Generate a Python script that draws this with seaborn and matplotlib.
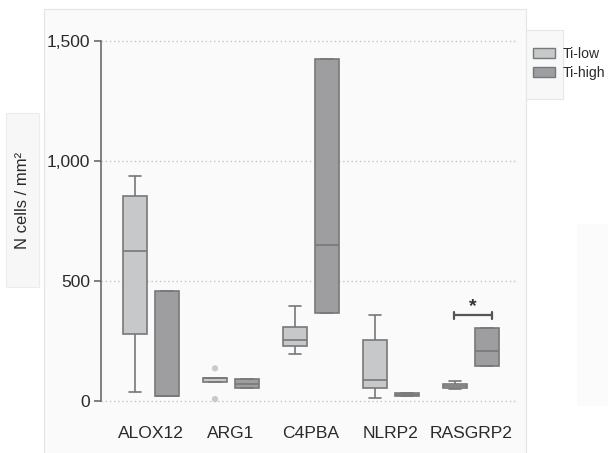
import numpy as np
import pandas as pd
import matplotlib
matplotlib.use("Agg")
import matplotlib.pyplot as plt
from matplotlib.patches import Rectangle, Patch
from matplotlib.ticker import StrMethodFormatter
import seaborn as sns

# Genes and groups
genes = ["ALOX12", "ARG1", "C4PBA", "NLRP2", "RASGRP2"]
groups = ["Ti-low", "Ti-high"]

# Five-number summaries (N cells / mm²): whisker low, Q1, median, Q3, whisker high
low_min = [37, 78, 197, 12, 49]
low_q1 = [280, 78, 231, 54, 54]
low_med = [625, 97, 253, 86, 63]
low_q3 = [852, 97, 308, 256, 70]
low_max = [935, 97, 396, 356, 83]

high_min = [20, 55, 366, 22, 145]
high_q1 = [20, 55, 366, 22, 145]
high_med = [20, 70, 648, 26, 207]
high_q3 = [458, 92, 1425, 32, 302]
high_max = [458, 92, 1425, 32, 302]

# Outlying points
outlier_gene = ["ARG1", "ARG1"]
outlier_group = ["Ti-low", "Ti-low"]
outlier_value = [136, 8]

# Significance marker
sig_gene = "RASGRP2"
sig_level = 357
sig_label = "*"

rows = []
summaries = {
    "Ti-low": (low_min, low_q1, low_med, low_q3, low_max),
    "Ti-high": (high_min, high_q1, high_med, high_q3, high_max),
}
for grp, stats in summaries.items():
    for i, g in enumerate(genes):
        for s in stats:
            rows.append({"gene": g, "group": grp, "value": s[i]})
df = pd.DataFrame(rows)
out_df = pd.DataFrame({"gene": outlier_gene, "group": outlier_group, "value": outlier_value})

palette = {"Ti-low": "#c7c8ca", "Ti-high": "#9d9ea1"}
edge = "#77787a"

sns.set_style("white")
plt.rcParams["font.family"] = ["Liberation Sans", "DejaVu Sans"]

W, H = 608, 453
fig = plt.figure(figsize=(W / 100, H / 100), dpi=100)
fig.patch.set_facecolor("white")

def frect(x0, y0, x1, y1, fc, ec="none", lw=0.8):
    r = Rectangle((x0 / W, 1 - y1 / H), (x1 - x0) / W, (y1 - y0) / H,
                  transform=fig.transFigure, facecolor=fc, edgecolor=ec,
                  linewidth=lw, zorder=-5)
    fig.patches.append(r)

# Background panels
frect(44, 9, 526, 455, "#fafafa", "#e4e4e4")
frect(526, 30, 563, 99, "#f8f8f8", "#e6e6e6")
frect(6, 113, 39, 287, "#f7f7f7", "#ececec")
frect(577, 224, 610, 406, "#fbfbfb")

ax = fig.add_axes([101 / W, 1 - 408.2 / H, 417 / W, (408.2 - 26.3) / H])
ax.set_facecolor("none")

sns.boxplot(data=df, x="gene", y="value", hue="group", order=genes,
            hue_order=groups, palette=palette, width=0.8, gap=0.25,
            whis=(0, 100), showfliers=False, linecolor=edge, linewidth=1.2,
            legend=False, ax=ax)
sns.stripplot(data=out_df, x="gene", y="value", hue="group", order=genes,
              hue_order=groups, dodge=True, jitter=False, size=4.5,
              palette={"Ti-low": "#c9c9cb", "Ti-high": "#c9c9cb"},
              linewidth=0, legend=False, ax=ax)

ax.set_xlim(-0.625, 4 + 47 / 80)
ax.set_ylim(-30, 1560)
ax.set_yticks([0, 500, 1000, 1500])
ax.yaxis.set_major_formatter(StrMethodFormatter("{x:,.0f}"))
ax.yaxis.grid(True, linestyle=(0, (1, 2)), color="#c4c4c4", linewidth=1)
ax.set_axisbelow(True)
for s in ["top", "right", "bottom"]:
    ax.spines[s].set_visible(False)
ax.spines["left"].set_bounds(0, 1500)
ax.spines["left"].set_color("#6a6a6a")
ax.spines["left"].set_linewidth(1.2)
ax.tick_params(axis="y", left=True, length=5, width=1.2, color="#6a6a6a",
               labelsize=12.5, labelcolor="#2a2a2a", pad=3)
ax.tick_params(axis="x", bottom=False, length=0, labelsize=12.6,
               labelcolor="#2a2a2a", pad=13)
ax.set_xlabel("")
ax.set_ylabel("")

# Significance bracket
gi = genes.index(sig_gene)
x0, x1 = gi - 0.21, gi + 0.26
tick_h = 14
ax.plot([x0, x1], [sig_level, sig_level], color="#555555", lw=1.6, solid_capstyle="butt")
ax.plot([x0, x0], [sig_level - tick_h, sig_level + tick_h], color="#555555", lw=1.6)
ax.plot([x1, x1], [sig_level - tick_h, sig_level + tick_h], color="#555555", lw=1.6)
ax.text((x0 + x1) / 2, sig_level + 2, sig_label, ha="center", va="bottom",
        fontsize=14, fontweight="bold", color="#333333")

fig.text(23 / W, 1 - 200 / H, "N cells / mm²", rotation=90, ha="center",
         va="center", fontsize=12, color="#2a2a2a")

handles = [Patch(facecolor=palette[g], edgecolor=edge, linewidth=1) for g in groups]
fig.legend(handles, groups, loc="upper left", bbox_to_anchor=(533 / W, 1 - 47 / H),
           frameon=False, borderpad=0, borderaxespad=0, handlelength=1.6,
           handleheight=0.7, handletextpad=0.5, labelspacing=0.35,
           fontsize=10.1, labelcolor="#2a2a2a")

fig.savefig("out.png", dpi=100)
